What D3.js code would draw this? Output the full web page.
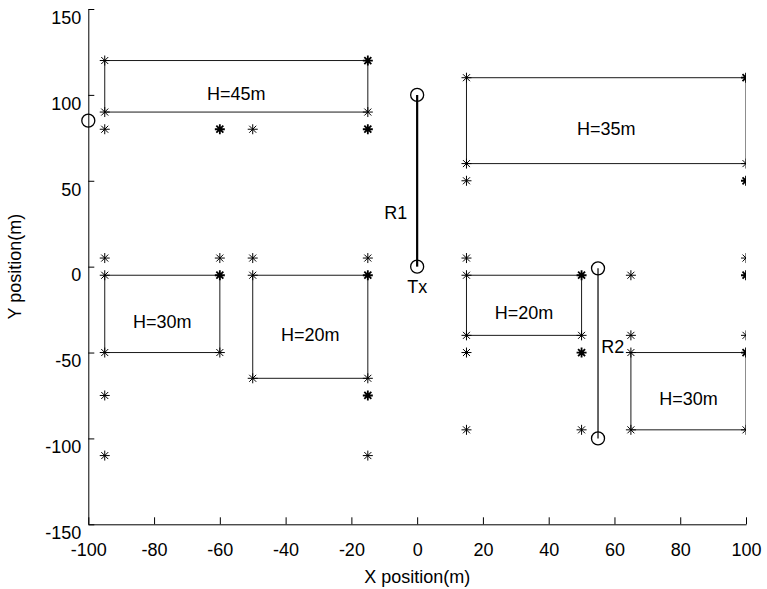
<!DOCTYPE html>
<html>
<head>
<meta charset="utf-8">
<script src="https://cdn.jsdelivr.net/npm/d3@7"></script>
<style>
  body { margin: 0; background: #fff; }
  text { font-family: "Liberation Sans", Arial, sans-serif; fill: #000; }
</style>
</head>
<body>
<div id="vis"></div>
<script>
// tick values
let xTicks = [-100, -80, -60, -40, -20, 0, 20, 40, 60, 80, 100]
let yTicks = [-150, -100, -50, 0, 50, 100, 150]

// buildings: [x0, x1, y0, y1]
let buildingBoxes = [
    [-95, -15, 90, 120],
    [15, 100, 60, 110],
    [-95, -60, -50, -5],
    [-50, -15, -65, -5],
    [15, 50, -40, -5],
    [65, 100, -95, -50]
]
let buildingNames = ["H=45m", "H=35m", "H=30m", "H=20m", "H=20m", "H=30m"]

// measurement points (duplicates are points drawn twice)
let pointsX = [-95, -15, -15, -95, -15, -95, -60, -60, -50, -15, -15,
               15, 100, 100, 15, 100, 15, 100, 100,
               -95, -60, -50, -15, -95, -60, -60, -50, -15, -15, -95, -60, -50, -15, -95, -15, -15, -95, -15,
               15, 15, 50, 50, 15, 50, 15, 50, 50, 15, 50,
               65, 100, 100, 100, 65, 100, 65, 100, 100, 65, 100]
let pointsY = [120, 120, 120, 90, 90, 80, 80, 80, 80, 80, 80,
               110, 110, 110, 60, 60, 50, 50, 50,
               5, 5, 5, 5, -5, -5, -5, -5, -5, -5, -50, -50, -65, -65, -75, -75, -75, -110, -110,
               5, -5, -5, -5, -40, -40, -50, -50, -50, -95, -95,
               -5, 5, -5, -5, -40, -40, -50, -50, -50, -95, -95]

// transmitter / receiver routes
let routes = [
    {name: "R1", from: [0, 100], to: [0, 0], label: [-10, 36]},
    {name: "R2", from: [55, -1], to: [55, -100], label: [56, -42]}
]
let circles = [[-100, 85], [0, 100], [0, 0], [55, -1], [55, -100]]
let txLabel = {name: "Tx", pos: [-3, -7]}

let width = 767, height = 589
let margin = {left: 88.3, right: 21, top: 9, bottom: 64.7}

let x = d3.scaleLinear().domain([-100, 100]).range([margin.left, width - margin.right])
let y = d3.scaleLinear().domain([-150, 150]).range([height - margin.bottom, margin.top])

let svg = d3.select("#vis").append("svg")
    .attr("width", width)
    .attr("height", height)
    .attr("font-size", 18)

svg.append("clipPath").attr("id", "plot")
    .append("rect")
    .attr("x", x(-100)).attr("y", y(150))
    .attr("width", x(100) - x(-100)).attr("height", y(-150) - y(150))

let g = svg.append("g").attr("clip-path", "url(#plot)")

// text offset used by the original renderer
let textShift = 8

// buildings
g.append("g")
    .attr("fill", "none")
    .attr("stroke", "#1a1a1a")
    .attr("stroke-width", 1)
    .selectAll("rect")
    .data(buildingBoxes)
    .join("rect")
    .attr("x", d => x(d[0]))
    .attr("y", d => y(d[3]))
    .attr("width", d => x(d[1]) - x(d[0]))
    .attr("height", d => y(d[2]) - y(d[3]))

svg.append("g")
    .selectAll("text")
    .data(buildingBoxes)
    .join("text")
    .attr("x", d => x((d[0] + d[1]) / 2))
    .attr("y", d => y((d[2] + d[3]) / 2) + textShift)
    .attr("text-anchor", "middle")
    .attr("dominant-baseline", "central")
    .text((d, i) => buildingNames[i])

// routes
g.append("g")
    .selectAll("line")
    .data(routes)
    .join("line")
    .attr("x1", d => x(d.from[0])).attr("y1", d => y(d.from[1]))
    .attr("x2", d => x(d.to[0])).attr("y2", d => y(d.to[1]))
    .attr("stroke", "#000")
    .attr("stroke-width", (d, i) => i == 0 ? 2.2 : 1.2)

svg.append("g")
    .selectAll("text")
    .data(routes)
    .join("text")
    .attr("x", d => x(d.label[0]))
    .attr("y", d => y(d.label[1]) + textShift)
    .attr("dominant-baseline", "central")
    .text(d => d.name)

svg.append("text")
    .attr("x", x(txLabel.pos[0]))
    .attr("y", y(txLabel.pos[1]) + textShift)
    .attr("dominant-baseline", "central")
    .text(txLabel.name)

// asterisk markers
let counts = d3.rollup(d3.range(pointsX.length), v => v.length, i => pointsX[i] + "," + pointsY[i])
let pts = Array.from(counts, ([k, n]) => {
    let [px, py] = k.split(",").map(Number)
    return {x: px, y: py, n: n}
})
let star = "M-5,0H5M0,-5V5M-3.5,-3.5L3.5,3.5M-3.5,3.5L3.5,-3.5"
g.append("g")
    .attr("fill", "none")
    .attr("stroke", "#000")
    .selectAll("path")
    .data(pts)
    .join("path")
    .attr("transform", d => `translate(${x(d.x)},${y(d.y)})`)
    .attr("stroke-width", d => d.n > 1 ? 1.8 : 1)
    .attr("d", star)

// circles
svg.append("g")
    .attr("fill", "none")
    .attr("stroke", "#000")
    .attr("stroke-width", 1.3)
    .selectAll("circle")
    .data(circles)
    .join("circle")
    .attr("cx", d => x(d[0]))
    .attr("cy", d => y(d[1]))
    .attr("r", 6.5)

// axes (plain hyphen for negatives, like the original)
let plain = d => String(d)

let xAxis = svg.append("g")
    .attr("transform", `translate(0,${y(-150)})`)
    .call(d3.axisBottom(x).tickValues(xTicks).tickFormat(plain).tickSizeInner(-7).tickSizeOuter(0))
xAxis.selectAll("text")
    .attr("y", 25)
    .attr("dy", "0.35em")
    .attr("font-size", 18)
    .attr("font-family", "Liberation Sans, Arial, sans-serif")

let yAxis = svg.append("g")
    .attr("transform", `translate(${x(-100)},0)`)
    .call(d3.axisLeft(y).tickValues(yTicks).tickFormat(plain).tickSizeInner(-6).tickSizeOuter(0))
yAxis.selectAll("text")
    .attr("x", -7)
    .attr("y", textShift)
    .attr("dy", "0.35em")
    .attr("font-size", 18)
    .attr("font-family", "Liberation Sans, Arial, sans-serif")

svg.selectAll(".domain, .tick line").attr("stroke", "#000")

// titles
svg.append("text")
    .attr("x", x(0))
    .attr("y", 577)
    .attr("text-anchor", "middle")
    .attr("dominant-baseline", "central")
    .text("X position(m)")

svg.append("text")
    .attr("transform", `translate(15,${y(0)}) rotate(-90)`)
    .attr("text-anchor", "middle")
    .attr("dominant-baseline", "central")
    .text("Y position(m)")
</script>
</body>
</html>
